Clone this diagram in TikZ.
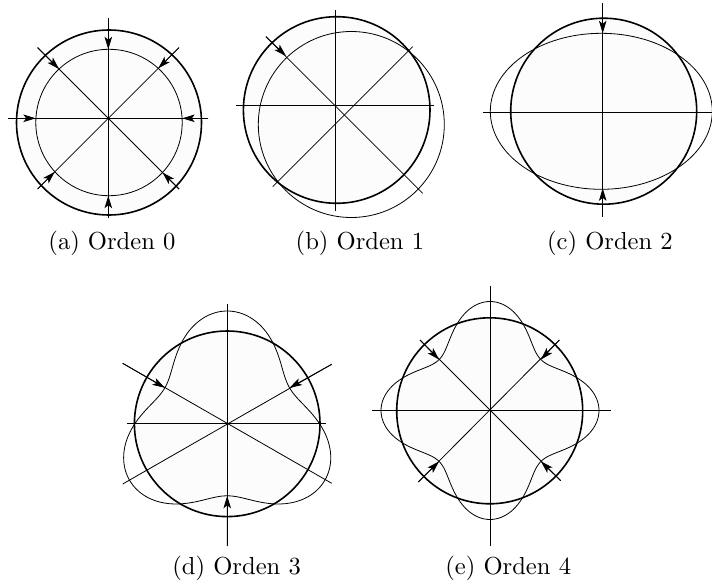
\documentclass[tikz,border=0pt]{standalone}
\usetikzlibrary{arrows.meta}
\font\capfont=cmr10 at 24.6pt
\begin{document}
\begin{tikzpicture}[x=1pt,y=1pt,
  thinline/.style={line width=0.8pt},
  thickline/.style={line width=1.6pt},
  axis/.style={line width=0.8pt},
  arr/.style={line width=0.8pt,-{Stealth[length=12.5pt,width=7.5pt,inset=3pt]}},
  capt/.style={anchor=base,font=\capfont,inner sep=0pt},
  fillin/.style={fill=black!1}]
\useasboundingbox (0,0) rectangle (712,-586);
% ---------- (a)
\coordinate (aC) at (109,-122.5);
\coordinate (aL) at (108.3,-118.3);
\fill[fillin] (aC) circle (92.5);
\foreach \t in {0,45,90,135}
  \draw[axis,shift={(aL)}] (\t:100) -- (\t+180:100);
\draw[thickline] (aC) circle (92.5);
\draw[thinline] (aC) circle (73.2);
\foreach \t/\d in {90/69,270/77.4,180/72.5,0/73.9,135/69.7,45/70.7,225/75.7,315/76.7}
  \draw[arr,shift={(aL)}] (\t:100) -- (\t:\d);
\node[capt] (capa) at (112,-249) {(a) Orden 0};
% ---------- (b)
\coordinate (bC) at (336.7,-110);
\coordinate (bD) at (351.3,-124.5);
\coordinate (bN) at (335.7,-10);
\coordinate (bS) at (335.7,-210.7);
\coordinate (bW) at (236,-105.7);
\coordinate (bE) at (434.3,-105.7);
\coordinate (bNW) at (266,-36.7);
\coordinate (bSE) at (422.7,-193.3);
\coordinate (bNE) at (412.7,-46.7);
\coordinate (bSW) at (272.7,-186.7);
\coordinate (bT) at (286,-56);
\fill[fillin] (bC) circle (93.3);
\draw[axis] (bN) -- (bS);
\draw[axis] (bW) -- (bE);
\draw[axis] (bNW) -- (bSE);
\draw[axis] (bNE) -- (bSW);
\draw[thickline] (bC) circle (93.3);
\draw[thinline] (bD) circle (93);
\draw[arr] (bNW) -- (bT);
\node[capt] (capb) at (360,-249) {(b) Orden 1};
% ---------- (c)
\coordinate (cC) at (603.7,-111.2);
\coordinate (cE) at (601.3,-111.3);
\coordinate (cN) at (602.7,-3.3);
\coordinate (cS) at (602.7,-216.7);
\coordinate (cW) at (482.7,-112.3);
\coordinate (cEE) at (712,-112.3);
\coordinate (cTn) at (602.7,-33.3);
\coordinate (cTs) at (602.7,-188.3);
\fill[fillin] (cC) circle (93);
\draw[axis] (cN) -- (cS);
\draw[axis] (cW) -- (cEE);
\draw[thickline] (cC) circle (93);
\draw[thinline] (cE) ellipse [x radius=111, y radius=78];
\draw[arr] (cN) -- (cTn);
\draw[arr] (cS) -- (cTs);
\node[capt] (capc) at (610,-249) {(c) Orden 2};
% ---------- (d)
\coordinate (dC) at (227.2,-423.8);
\coordinate (dW) at (127.3,-423.7);
\coordinate (dE) at (326,-423.7);
\coordinate (dN) at (227.3,-304.3);
\coordinate (dS) at (227.3,-546);
\coordinate (dNW) at (122.7,-363.3);
\coordinate (dSE) at (331.7,-483.3);
\coordinate (dNE) at (331.7,-364.3);
\coordinate (dSW) at (122.7,-484);
\fill[fillin] (dC) circle (92.8);
\draw[axis] (dW) -- (dE);
\draw[axis] (dN) -- (dS);
\draw[axis] (dNW) -- (dSE);
\draw[axis] (dNE) -- (dSW);
\draw[thickline] (dC) circle (92.8);
\draw[thinline,shift={(dC)}] plot[domain=0:360,samples=241]
  ({(92.4-20.4*sin(3*\x))*cos(\x)},{(92.4-20.4*sin(3*\x))*sin(\x)}) -- cycle;
\draw[arr] (dNW) -- ([shift={(150:72)}]dC);
\draw[arr] (dNE) -- ([shift={(30:72)}]dC);
\draw[arr] (dS) -- ([shift={(270:72)}]dC);
\node[capt] (capd) at (236.7,-574) {(d) Orden 3};
% ---------- (e)
\coordinate (eC) at (489.7,-410.8);
\coordinate (eK) at (490,-410.5);
\coordinate (eW) at (371.7,-410);
\coordinate (eE) at (610.7,-410);
\coordinate (eN) at (490,-286);
\coordinate (eS) at (490,-546);
\coordinate (eNW) at (420,-340);
\coordinate (eSE) at (560.7,-480.7);
\coordinate (eNE) at (559.3,-340);
\coordinate (eSW) at (418.3,-482);
\fill[fillin] (eC) circle (93);
\draw[axis] (eW) -- (eE);
\draw[axis] (eN) -- (eS);
\draw[axis] (eNW) -- (eSE);
\draw[axis] (eNE) -- (eSW);
\draw[thickline] (eC) circle (93);
\draw[thinline,shift={(eK)}] plot[domain=0:360,samples=241]
  ({(90.5+18.5*cos(4*\x))*cos(\x)},{(90.5+18.5*cos(4*\x))*sin(\x)}) -- cycle;
\draw[arr] (eNW) -- ([shift={(135:72)}]eK);
\draw[arr] (eNE) -- ([shift={(45:72)}]eK);
\draw[arr] (eSW) -- ([shift={(225:72)}]eK);
\draw[arr] (eSE) -- ([shift={(315:72)}]eK);
\node[capt] (cape) at (508.3,-574) {(e) Orden 4};
\end{tikzpicture}
\end{document}
